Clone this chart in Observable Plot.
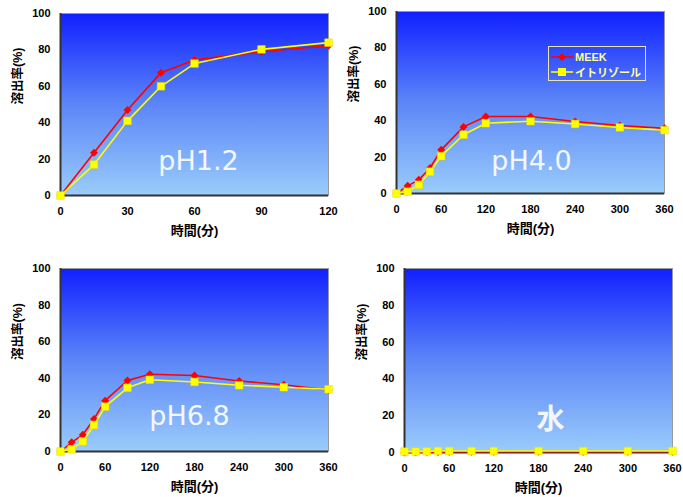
<!DOCTYPE html>
<html>
<head>
<meta charset="utf-8">
<script src="https://cdn.jsdelivr.net/npm/d3@7"></script>
<script src="https://cdn.jsdelivr.net/npm/@observablehq/plot@0.6"></script>
<style>
  html, body { margin: 0; padding: 0; background: #fff; }
  #wrap { position: relative; width: 683px; height: 497px; overflow: hidden; }
  .panel { position: absolute; }
  #legend { position: absolute; left: 548px; top: 46px; width: 98px; height: 35px;
    border: 1px solid #e8e4a8; box-sizing: border-box; font-family: "Liberation Sans", Arial, "Noto Sans CJK JP", sans-serif;
    font-weight: bold; font-size: 11px; color: #ffff99; padding-top: 2px; white-space: nowrap; }
  #legend .row { display: flex; align-items: center; height: 15px; padding-left: 2px; white-space: nowrap; }
  #legend svg { margin-right: 2px; flex: none; }
  #legend span { flex: none; }
</style>
</head>
<body>
<div id="wrap"></div>
<script>
// ---- data ----
const timesShort = [0, 15, 30, 45, 60, 90, 120];
const timesLong = [0, 15, 30, 45, 60, 90, 120, 180, 240, 300, 360];

const meek_pH12 = [0, 23.5, 47, 67.5, 74.5, 79, 82.3];
const itori_pH12 = [0, 17, 41, 60, 72.5, 80.3, 84];

const meek_pH40 = [0, 4.2, 7.5, 14, 24, 36.6, 42.3, 42.3, 39.6, 37.4, 35.8];
const itori_pH40 = [0, 1, 4.8, 12, 20.5, 32.3, 38.6, 39.7, 38.2, 36.3, 34.8];

const meek_pH68 = [0, 5, 9.2, 17.8, 27.8, 38.8, 42.2, 41.5, 38.5, 36.5, 33.6];
const itori_pH68 = [0, 1.2, 5.5, 14.5, 24.5, 34.8, 39.2, 38, 36.2, 35.1, 34];

const meek_water = [0, 0.2, 0.3, 0.3, 0.4, 0.4, 0.4, 0.4, 0.4, 0.4, 0.4];
const itori_water = [0.5, 0.5, 0.6, 0.8, 0.8, 0.8, 0.8, 0.8, 0.8, 0.8, 0.8];

const ticksShort = [0, 30, 60, 90, 120];
const ticksLong = [0, 60, 120, 180, 240, 300, 360];
const yTicks = [0, 20, 40, 60, 80, 100];

const seriesNames = ["MEEK", "イトリゾール"];
const xLabel = "時間(分)";
const yLabel = "溶出率(%)";

function rows(times, vals) { return times.map((t, i) => ({t, v: vals[i]})); }

const wrap = document.getElementById("wrap");

function makePanel(o) {
  const meek = rows(o.times, o.meek);
  const itori = rows(o.times, o.itori);
  const gid = "grad_" + o.id;
  const chart = Plot.plot({
    width: o.width, height: o.height,
    marginLeft: o.ml, marginRight: o.mr, marginTop: o.mt, marginBottom: o.mb,
    style: {background: "transparent", fontFamily: "'Liberation Sans', Arial, 'Noto Sans CJK JP', sans-serif",
      fontSize: "11px", fontWeight: "bold", color: "#000", overflow: "visible"},
    x: {domain: [0, o.xMax], ticks: o.xTicks, tickSize: 0, tickPadding: 12, label: null},
    y: {domain: [0, 100], ticks: yTicks, tickSize: 0, tickPadding: 10, label: null},
    marks: [
      Plot.frame({fill: `url(#${gid})`, stroke: "#9a9a9a", strokeWidth: 1}),
      Plot.ruleY([0], {stroke: "#333", strokeWidth: 2}),
      Plot.ruleX([0], {stroke: "#333", strokeWidth: 2}),
      Plot.text([o.label], {frameAnchor: "bottom", lineAnchor: "bottom", dx: o.ldx, dy: o.ldy,
        fontSize: o.lsize || 27, fill: "#f4f7ff", fontWeight: o.lweight || "normal",
        fontFamily: o.lfont || "'DejaVu Sans', Verdana, sans-serif"}),
      Plot.line(meek, {x: "t", y: "v", stroke: "#ff0000", strokeWidth: 1.6}),
      Plot.dot(meek, {x: "t", y: "v", symbol: "diamond2", r: 3.6, fill: "#ff0000", stroke: "none"}),
      Plot.line(itori, {x: "t", y: "v", stroke: "#ffff00", strokeWidth: 1.6}),
      Plot.dot(itori, {x: "t", y: "v", symbol: "square", r: 4.3, fill: "#ffff00", stroke: "#e6d800", strokeWidth: 0.5}),
      Plot.text([xLabel], {frameAnchor: "bottom", lineAnchor: "bottom", dy: o.xldy, fontSize: 13, fontWeight: "bold"}),
      Plot.text([yLabel], {frameAnchor: "left", rotate: -90, dx: o.yldx, fontSize: 12.5, fontWeight: "bold"})
    ]
  });
  const svg = d3.select(chart);
  const g = svg.insert("defs", ":first-child").append("linearGradient")
    .attr("id", gid).attr("x1", 0).attr("y1", 0).attr("x2", 0).attr("y2", 1);
  g.append("stop").attr("offset", "0%").attr("stop-color", "#1020ff");
  g.append("stop").attr("offset", "50%").attr("stop-color", "#5c86f8");
  g.append("stop").attr("offset", "100%").attr("stop-color", "#9accfb");
  const div = document.createElement("div");
  div.className = "panel";
  div.style.left = o.left + "px";
  div.style.top = o.top + "px";
  div.appendChild(chart);
  wrap.appendChild(div);
}

makePanel({id: "a", left: 0, top: 0, width: 340, height: 245, ml: 60, mr: 12, mt: 13, mb: 50,
  times: timesShort, meek: meek_pH12, itori: itori_pH12, xMax: 120, xTicks: ticksShort,
  label: "pH1.2", ldx: 4, ldy: -26, xldy: 39, yldx: -43});
makePanel({id: "b", left: 340, top: 0, width: 343, height: 245, ml: 56, mr: 19, mt: 11, mb: 52,
  times: timesLong, meek: meek_pH40, itori: itori_pH40, xMax: 360, xTicks: ticksLong,
  label: "pH4.0", ldx: 1, ldy: -24, xldy: 39, yldx: -43});
makePanel({id: "c", left: 0, top: 255, width: 340, height: 242, ml: 60, mr: 12, mt: 13, mb: 46,
  times: timesLong, meek: meek_pH68, itori: itori_pH68, xMax: 360, xTicks: ticksLong,
  label: "pH6.8", ldx: -5, ldy: -27, xldy: 39, yldx: -43});
makePanel({id: "d", left: 340, top: 255, width: 343, height: 242, ml: 64, mr: 11, mt: 13, mb: 45,
  times: timesLong, meek: meek_water, itori: itori_water, xMax: 360, xTicks: ticksLong,
  label: "水", ldx: 12, ldy: -24, xldy: 39, yldx: -43, lsize: 28, lweight: "bold",
  lfont: "'Noto Sans CJK JP', sans-serif"});

// legend (top-right panel)
const legend = document.createElement("div");
legend.id = "legend";
const sym = [
  `<svg width="22" height="10"><line x1="0" y1="5" x2="22" y2="5" stroke="#ff0000" stroke-width="1.6"/><path d="M11 1 L15 5 L11 9 L7 5 Z" fill="#ff0000"/></svg>`,
  `<svg width="22" height="10"><line x1="0" y1="5" x2="22" y2="5" stroke="#ffff00" stroke-width="1.6"/><rect x="7" y="1" width="8" height="8" fill="#ffff00"/></svg>`
];
seriesNames.forEach((n, i) => {
  const r = document.createElement("div");
  r.className = "row";
  r.innerHTML = sym[i] + `<span>${n}</span>`;
  legend.appendChild(r);
});
wrap.appendChild(legend);
</script>
</body>
</html>
